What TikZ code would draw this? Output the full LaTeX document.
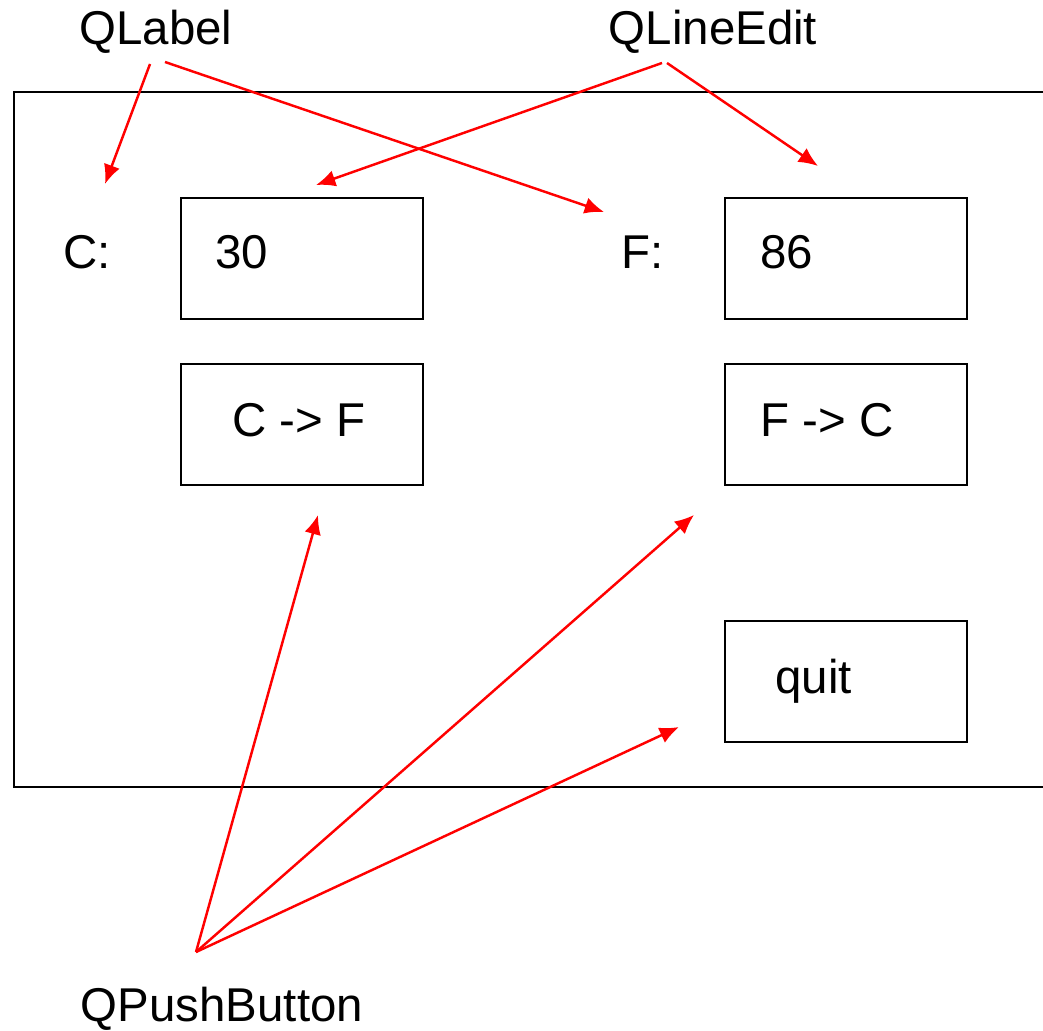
\documentclass[tikz,border=0pt]{standalone}
\usepackage{fontspec}
\setmainfont{Liberation Sans}
\usetikzlibrary{arrows.meta}

\tikzset{
  txt/.style={inner sep=0pt,anchor=base,font=\fontsize{27}{32}\selectfont},
  ptr/.style={red,line width=1.4pt,-{Latex[length=11pt,width=9.5pt]}},
  frame/.style={black,line width=1.4pt}
}

\begin{document}
\begin{tikzpicture}[x=0.02cm,y=-0.02cm]
\useasboundingbox (0,0) rectangle (1043,1030);

% window outline, open on the right
\draw[frame] (1043,92) -- (14,92) -- (14,787) -- (1043,787);

% line edits and buttons
\draw[frame] (181,198) rectangle (423,319);
\draw[frame] (725,198) rectangle (967,319);
\draw[frame] (181,364) rectangle (423,485);
\draw[frame] (725,364) rectangle (967,485);
\draw[frame] (725,621) rectangle (967,742);

\node[txt] (cl) at (87,269) {C:};
\node[txt] (fl) at (643,269) {F:};
\node[txt,anchor=base west] (cval) at (215,269) {30};
\node[txt,anchor=base west] (fval) at (760,269) {86};
\node[txt] (ctof) at (299,436) {C -> F};
\node[txt,anchor=base west] (ftoc) at (760,436) {F -> C};
\node[txt,anchor=base west] (quit) at (775,693) {quit};

\node[txt] (qlabel) at (156,45) {QLabel};
\node[txt] (qlineedit) at (713,45) {QLineEdit};
\node[txt] (qpushbutton) at (222,1021) {QPushButton};

% arrow ends
\coordinate (la) at (150,64);
\coordinate (lb) at (165,62);
\coordinate (ea) at (662,63);
\coordinate (eb) at (667,63);
\coordinate (pb) at (196,952);
\coordinate (toC) at (105,184);
\coordinate (toF) at (604,212);
\coordinate (toCval) at (316,185);
\coordinate (toFval) at (818,166);
\coordinate (toCtoF) at (318,515);
\coordinate (toFtoC) at (694,515);
\coordinate (toQuit) at (679,727);

\draw[ptr] (la) -- (toC);
\draw[ptr] (lb) -- (toF);
\draw[ptr] (ea) -- (toCval);
\draw[ptr] (eb) -- (toFval);
\draw[ptr] (pb) -- (toCtoF);
\draw[ptr] (pb) -- (toFtoC);
\draw[ptr] (pb) -- (toQuit);

\end{tikzpicture}
\end{document}
